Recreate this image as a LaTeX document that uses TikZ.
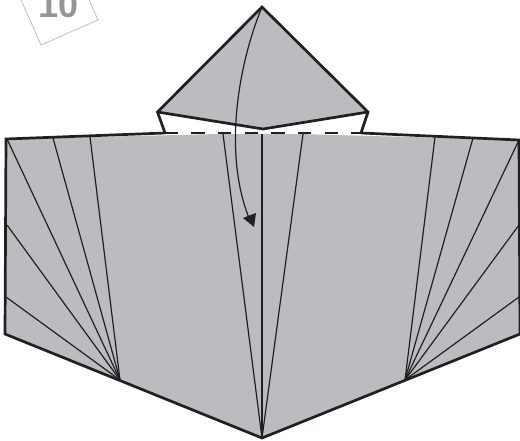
\documentclass[tikz,border=0pt]{standalone}
\usepackage{fontspec}
\setmainfont{Liberation Sans}
\definecolor{paper}{HTML}{BBBCBF}
\definecolor{ink}{HTML}{231F20}
\definecolor{badge}{HTML}{939598}
\definecolor{badgeline}{HTML}{BDBDBD}
\tikzset{
  outline/.style={draw=ink,line width=2.7pt,line join=miter},
  crease/.style={draw=ink,line width=1.2pt},
  flap/.style={fill=paper},
}
\begin{document}
\begin{tikzpicture}[x=1pt,y=-1pt]
\useasboundingbox (0,0) rectangle (520,441);
\begin{scope}
\clip (0,0) rectangle (520,441);
% badge
\draw[badgeline,line width=0.8pt] (21,0) -- (41,45) -- (98,20) -- (89,0);
\node[anchor=base,inner sep=0pt,text=badge,font=\bfseries\fontsize{36}{36}\selectfont] (num) at (59,18) {10};
% named points
\coordinate (apex) at (262,7);
\coordinate (kl) at (157.5,112);
\coordinate (kr) at (368,112);
\coordinate (kc) at (263,129);
\coordinate (hl) at (165,133);
\coordinate (hr) at (361,133);
\coordinate (tl) at (6,139);
\coordinate (tc) at (262,133);
\coordinate (tr) at (519,140);
\coordinate (bl) at (5,334);
\coordinate (br) at (520,334);
\coordinate (bot) at (262,438);
\coordinate (jl) at (120,380);
\coordinate (jr) at (405,380);
% kite
\fill[flap] (apex) -- (kr) -- (kc) -- (kl) -- cycle;
\draw[outline] (hl) -- (kl) -- (apex) -- (kr) -- (hr);
\draw[outline] (kl) -- (kc) -- (kr);
% body
\fill[flap] (tl) -- (tc) -- (tr) -- (br) -- (bot) -- (bl) -- cycle;
\draw[outline] (hl) -- (tl) -- (bl) -- (bot) -- (br);
\draw[outline] (hr) -- (tr) -- (br);
\draw[ink,line width=2.7pt] (tc) -- (bot);
\draw[ink,line width=2.4pt,line cap=butt] (hl) -- (hr);
\draw[white,line width=2.4pt,dash pattern=on 13.3pt off 13.35pt] (178,133) -- (361,133);
% fans
\foreach \p in {(7,139),(53,138),(90,137),(7,225),(6,297)} \draw[crease] (jl) -- \p;
\foreach \p in {(435,137),(473,138),(519,140),(519,225),(519,297)} \draw[crease] (jr) -- \p;
\draw[crease] (bot) -- (223,134);
\draw[crease] (bot) -- (303,134);
% arrow
\coordinate (tip) at (254,227);
\draw[ink,line width=1.2pt] (apex) .. controls (240,60) and (222,150) .. (249,218);
\fill[ink] (254,227) -- (243,218) -- (256,213) -- cycle;
\end{scope}
\end{tikzpicture}
\end{document}
